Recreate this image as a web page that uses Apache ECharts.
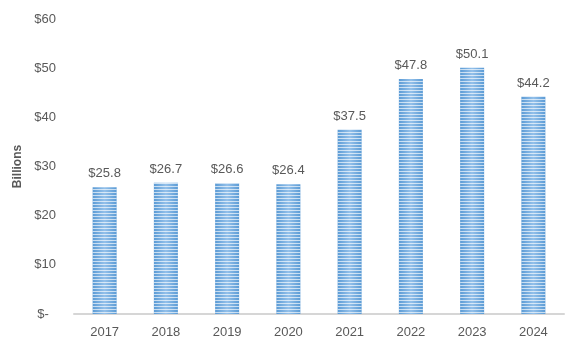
<!DOCTYPE html>
<html>
<head>
<meta charset="utf-8">
<script src="https://cdn.jsdelivr.net/npm/echarts@6/dist/echarts.min.js"></script>
<style>
  html, body { margin: 0; padding: 0; background: #fff; }
  #chart { width: 565px; height: 344px; }
</style>
</head>
<body>
<div id="chart"></div>
<script>
// Annual totals, in billions of dollars
const years = ['2017', '2018', '2019', '2020', '2021', '2022', '2023', '2024'];
const totals = [25.8, 26.7, 26.6, 26.4, 37.5, 47.8, 50.1, 44.2];
const yTicks = [0, 10, 20, 30, 40, 50, 60];

const chart = echarts.init(document.getElementById('chart'), null, { renderer: 'canvas' });

const textColor = '#595959';
const font = 'Liberation Sans, Arial, sans-serif';

chart.setOption({
  animation: false,
  grid: { left: 74, right: 1, top: 19, bottom: 30 },
  xAxis: {
    type: 'category',
    data: years,
    axisLine: { lineStyle: { color: '#d6d6d6', width: 2 } },
    axisTick: { show: false },
    axisLabel: { color: textColor, fontSize: 13, fontFamily: font, margin: 12 }
  },
  yAxis: {
    type: 'value',
    min: yTicks[0],
    max: yTicks[yTicks.length - 1],
    interval: 10,
    name: 'Billions',
    nameLocation: 'middle',
    nameGap: 50,
    nameTextStyle: { color: textColor, fontSize: 12, fontWeight: 'bold', fontFamily: font },
    splitLine: { show: false },
    axisLine: { show: false },
    axisTick: { show: false },
    axisLabel: {
      color: textColor, fontSize: 13, fontFamily: font, margin: 18,
      formatter: v => v === 0 ? '$-  ' : '$' + v
    }
  },
  series: [{
    type: 'bar',
    data: totals,
    barWidth: 24,
    itemStyle: {
      color: {
        type: 'linear', x: 0, y: 0, x2: 1, y2: 0,
        colorStops: [
          { offset: 0, color: '#5b9bd5' },
          { offset: 0.5, color: '#93c0ea' },
          { offset: 1, color: '#5b9bd5' }
        ]
      },
      decal: {
        symbol: 'rect',
        symbolSize: 1,
        dashArrayX: [[1, 0]],
        dashArrayY: [1, 2],
        rotation: 0,
        color: 'rgba(255,255,255,0.65)'
      }
    },
    label: {
      show: true,
      position: 'top',
      distance: 7,
      color: textColor,
      fontSize: 13,
      fontFamily: font,
      formatter: p => '$' + p.value.toFixed(1)
    }
  }]
});
</script>
</body>
</html>
